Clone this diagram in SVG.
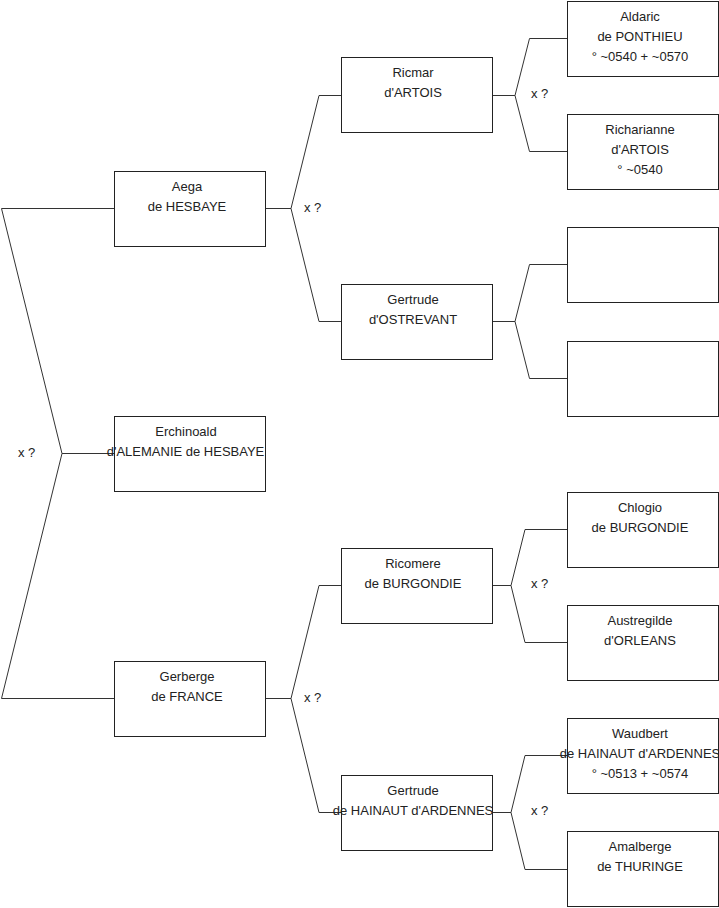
<svg xmlns="http://www.w3.org/2000/svg" width="719" height="908" viewBox="0 0 719 908">
<style>
rect.box{fill:#fff;stroke:#222;stroke-width:1}
.conn path{fill:none;stroke:#333;stroke-width:1}
text{font-family:"Liberation Sans",Arial,sans-serif;font-size:13px;fill:#222;text-anchor:middle}
text.lbl{text-anchor:start}
</style>
<rect x="0" y="0" width="719" height="908" fill="#fff"/>
<g id="connectors" class="conn">
<path d="M114 208.5H1.5L62 453.5H114M62 453.5L1.5 698.5H114"/>
<path d="M265 208.5H291L319 95.5H341M291 208.5L319 321.5H341"/>
<path d="M265 698.5H291L319 585.5H341M291 698.5L319 812.5H341"/>
<path d="M492 95.5H515L529.5 38.5H567M515 95.5L529.5 151.5H567"/>
<path d="M492 321.5H515L529.5 264.5H567M515 321.5L529.5 378.5H567"/>
<path d="M492 585.5H511L525 529.5H567M511 585.5L525 642.5H567"/>
<path d="M492 812.5H511L525 755.5H567M511 812.5L525 869.5H567"/>
</g>
<g id="labels">
<text class="lbl" x="18" y="457">x ?</text>
<text class="lbl" x="304" y="212">x ?</text>
<text class="lbl" x="304" y="702">x ?</text>
<text class="lbl" x="531" y="98">x ?</text>
<text class="lbl" x="531" y="588">x ?</text>
<text class="lbl" x="531" y="815">x ?</text>
</g>
<g id="aega"><rect class="box" x="114.5" y="171.5" width="151" height="75"/><text x="187" y="191">Aega</text><text x="187" y="211">de HESBAYE</text></g>
<g id="erchinoald"><rect class="box" x="114.5" y="416.5" width="151" height="75"/><text x="186" y="436">Erchinoald</text><text x="185.5" y="456">d'ALEMANIE de HESBAYE</text></g>
<g id="gerberge"><rect class="box" x="114.5" y="661.5" width="151" height="75"/><text x="187" y="681">Gerberge</text><text x="187" y="701">de FRANCE</text></g>
<g id="ricmar"><rect class="box" x="341.5" y="57.5" width="151" height="75"/><text x="413" y="77">Ricmar</text><text x="413" y="97">d'ARTOIS</text></g>
<g id="gertrude-ostrevant"><rect class="box" x="341.5" y="284.5" width="151" height="75"/><text x="413" y="304">Gertrude</text><text x="413" y="324">d'OSTREVANT</text></g>
<g id="ricomere"><rect class="box" x="341.5" y="548.5" width="151" height="75"/><text x="413" y="568">Ricomere</text><text x="413" y="588">de BURGONDIE</text></g>
<g id="gertrude-hainaut"><rect class="box" x="341.5" y="775.5" width="151" height="75"/><text x="413" y="795">Gertrude</text><text x="413" y="815">de HAINAUT d'ARDENNES</text></g>
<g id="aldaric"><rect class="box" x="567.5" y="1.5" width="151" height="75"/><text x="640" y="21">Aldaric</text><text x="640" y="41">de PONTHIEU</text><text x="640" y="61">° ~0540 + ~0570</text></g>
<g id="richarianne"><rect class="box" x="567.5" y="114.5" width="151" height="75"/><text x="640" y="134">Richarianne</text><text x="640" y="154">d'ARTOIS</text><text x="640" y="174">° ~0540</text></g>
<g id="empty1"><rect class="box" x="567.5" y="227.5" width="151" height="75"/></g>
<g id="empty2"><rect class="box" x="567.5" y="341.5" width="151" height="75"/></g>
<g id="chlogio"><rect class="box" x="567.5" y="492.5" width="151" height="75"/><text x="640" y="512">Chlogio</text><text x="640" y="532">de BURGONDIE</text></g>
<g id="austregilde"><rect class="box" x="567.5" y="605.5" width="151" height="75"/><text x="640" y="625">Austregilde</text><text x="640" y="645">d'ORLEANS</text></g>
<g id="waudbert"><rect class="box" x="567.5" y="718.5" width="151" height="75"/><text x="640" y="738">Waudbert</text><text x="640" y="758">de HAINAUT d'ARDENNES</text><text x="640" y="778">° ~0513 + ~0574</text></g>
<g id="amalberge"><rect class="box" x="567.5" y="831.5" width="151" height="75"/><text x="640" y="851">Amalberge</text><text x="640" y="871">de THURINGE</text></g>
</svg>
